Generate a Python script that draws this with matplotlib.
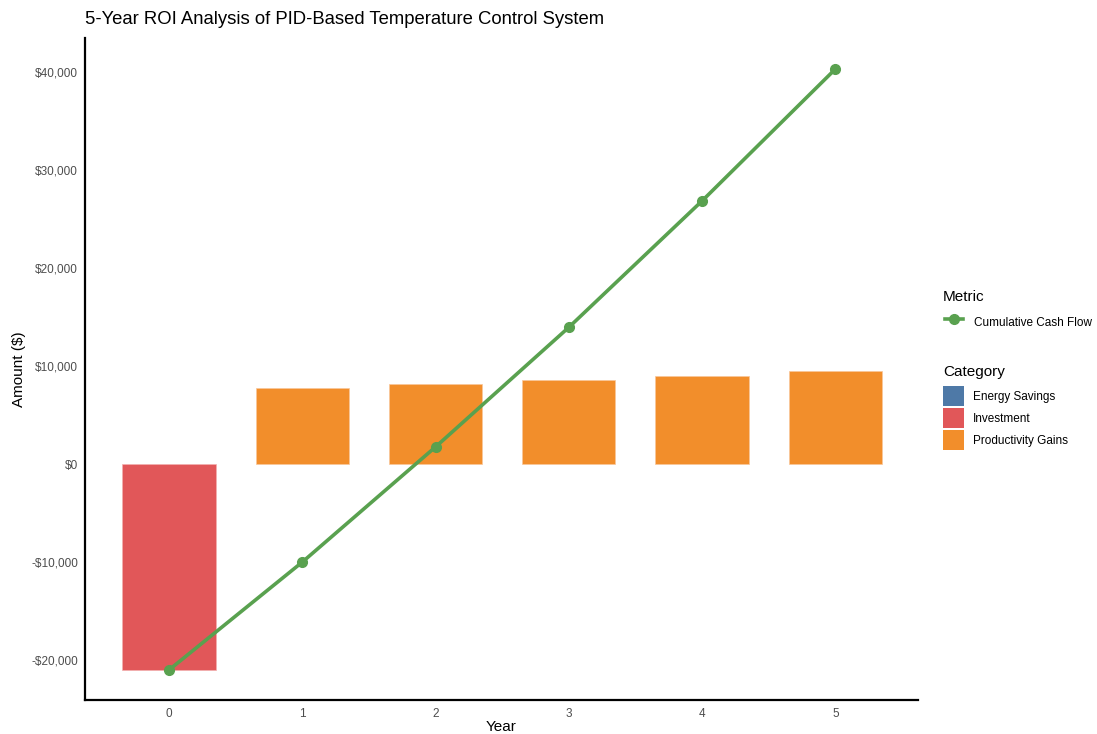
import matplotlib
matplotlib.use("Agg")
import matplotlib.pyplot as plt
from matplotlib.lines import Line2D
from matplotlib.patches import Patch
from matplotlib.ticker import FuncFormatter

plt.rcParams['font.family'] = ['Liberation Sans', 'DejaVu Sans']

years = [0, 1, 2, 3, 4, 5]
investment = [-21000, 0, 0, 0, 0, 0]
energy_savings = [0, 3250, 3600, 3650, 3900, 4000]
productivity_gains = [0, 7750, 8150, 8550, 9000, 9450]
cumulative_cash_flow = [-21000, -10000, 1750, 13950, 26850, 40300]
y_ticks = [-20000, -10000, 0, 10000, 20000, 30000, 40000]

c_energy = '#4E79A7'
c_invest = '#E15759'
c_prod = '#F28E2B'
c_line = '#59A14F'

W, H = 1097, 734
fig = plt.figure(figsize=(W / 100, H / 100), dpi=100)
ax = fig.add_axes([85 / W, 1 - 700 / H, (918 - 85) / W, (700 - 38) / H])

bw = 0.7
ax.bar(years[:1], investment[:1], width=bw, color=c_invest, edgecolor='#f3b0b0', linewidth=0.5, zorder=2)
ax.bar(years[1:], energy_savings[1:], width=bw * 0.96, color=c_energy, linewidth=0, zorder=1)
ax.bar(years[1:], productivity_gains[1:], width=bw, color=c_prod, edgecolor='#f8c79a', linewidth=0.5, zorder=3)
ax.plot(years, cumulative_cash_flow, color=c_line, linewidth=2.6, marker='o', markersize=7, zorder=4)

ax.set_xlim(-0.63, 5.62)
ax.set_ylim(-24065, 43465)
ax.set_xticks(years)
ax.set_yticks(y_ticks)

def fmt(v, pos):
    v = int(round(v))
    if v < 0:
        return '-${:,}'.format(-v)
    return '${:,}'.format(v)

ax.yaxis.set_major_formatter(FuncFormatter(fmt))
ax.tick_params(axis='both', length=0, labelsize=8.5, labelcolor='#4d4d4d')
ax.tick_params(axis='y', pad=5)
ax.tick_params(axis='x', pad=5.5)
for s in ['top', 'right']:
    ax.spines[s].set_visible(False)
for s in ['left', 'bottom']:
    ax.spines[s].set_linewidth(1.6)
    ax.spines[s].set_color('black')

ax.set_xlabel('Year', fontsize=11, labelpad=0.5)
ax.set_ylabel('Amount ($)', fontsize=11, labelpad=4)
fig.text(85 / W, 1 - 20 / H, '5-Year ROI Analysis of PID-Based Temperature Control System',
         fontsize=13.3, ha='left', va='center')

fig.text(943 / W, 1 - 297 / H, 'Metric', fontsize=11, ha='left', va='center')
fig.text(943 / W, 1 - 372 / H, 'Category', fontsize=11, ha='left', va='center')

h1 = [Line2D([0], [0], color=c_line, linewidth=2.6, marker='o', markersize=7)]
leg1 = fig.legend(h1, ['Cumulative Cash Flow'], loc='upper left',
                  bbox_to_anchor=(945 / W, 1 - 312 / H), frameon=False, fontsize=8.5,
                  borderpad=0, borderaxespad=0, handlelength=1.5, handleheight=2.23,
                  handletextpad=0.95)
h2 = [Patch(facecolor=c_energy), Patch(facecolor=c_invest), Patch(facecolor=c_prod)]
leg2 = fig.legend(h2, ['Energy Savings', 'Investment', 'Productivity Gains'],
                  loc='upper left', bbox_to_anchor=(943 / W, 1 - 386 / H), frameon=False,
                  fontsize=8.5, borderpad=0, borderaxespad=0,
                  handlelength=1.78, handleheight=2.23, labelspacing=0.17, handletextpad=0.76)

fig.savefig('out.png', dpi=100)
